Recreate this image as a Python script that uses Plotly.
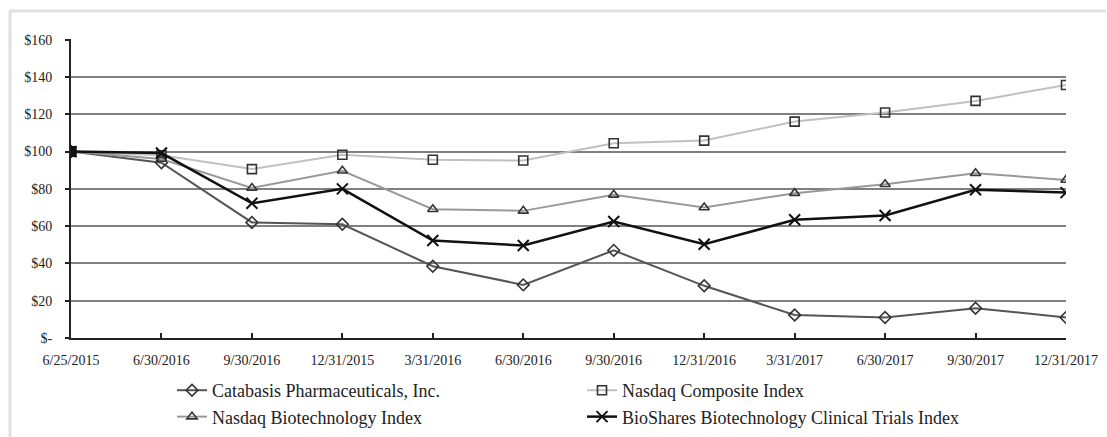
import plotly.graph_objects as go

dates = ["6/25/2015", "6/30/2016", "9/30/2016", "12/31/2015", "3/31/2016", "6/30/2016",
         "9/30/2016", "12/31/2016", "3/31/2017", "6/30/2017", "9/30/2017", "12/31/2017"]
catabasis = [100, 94, 62, 61, 38.5, 28.5, 47, 28, 12.3, 11, 16, 11]
nasdaq_composite = [100, 98, 90.6, 98.3, 95.6, 95.2, 104.5, 105.9, 116.1, 121, 127.2, 135.7]
nasdaq_biotech = [100, 96, 80.5, 89.7, 69.1, 68.2, 76.8, 70, 77.7, 82.5, 88.4, 84.8]
bioshares = [100, 99.2, 72.3, 80, 52.3, 49.6, 62.5, 50.3, 63.4, 65.7, 79.5, 78]
y_ticks = [0, 20, 40, 60, 80, 100, 120, 140, 160]
y_labels = ["$-", "$20", "$40", "$60", "$80", "$100", "$120", "$140", "$160"]

idx = list(range(len(dates)))
n = len(dates)

fig = go.Figure()
fig.add_trace(go.Scatter(
    x=idx, y=catabasis, name="Catabasis Pharmaceuticals, Inc.", mode="lines+markers",
    line=dict(color="#555555", width=2),
    marker=dict(symbol="diamond-open", size=9, color="#333333", line=dict(width=1.6, color="#333333"))))
fig.add_trace(go.Scatter(
    x=idx, y=nasdaq_composite, name="Nasdaq Composite Index", mode="lines+markers",
    line=dict(color="#c0c0c0", width=2),
    marker=dict(symbol="square-open", size=9, color="#333333", line=dict(width=1.6, color="#333333"))))
fig.add_trace(go.Scatter(
    x=idx, y=nasdaq_biotech, name="Nasdaq Biotechnology Index", mode="lines+markers",
    line=dict(color="#999999", width=2),
    marker=dict(symbol="triangle-up-open", size=9, color="#333333", line=dict(width=1.6, color="#333333"))))
fig.add_trace(go.Scatter(
    x=idx, y=bioshares, name="BioShares Biotechnology Clinical Trials Index", mode="lines+markers",
    line=dict(color="#111111", width=2.5),
    marker=dict(symbol="x-thin-open", size=11, color="#111111", line=dict(width=2, color="#111111"))))
# filled start marker where all series overlap
fig.add_trace(go.Scatter(
    x=[idx[0]], y=[nasdaq_composite[0]], mode="markers", showlegend=False, hoverinfo="skip",
    marker=dict(symbol="square", size=11, color="#111111")))

fig.update_layout(
    width=1107, height=437,
    margin=dict(l=71, r=41, t=39, b=99, autoexpand=False),
    paper_bgcolor="white", plot_bgcolor="white",
    font=dict(family="Liberation Serif", size=14, color="#222222"),
    showlegend=True,
    legend=dict(orientation="h", x=0.1015, xanchor="left", xref="paper",
                y=0.1487, yanchor="top", yref="container",
                entrywidth=365, font=dict(family="Liberation Serif", size=18, color="#222222"),
                tracegroupgap=0, itemwidth=30, bgcolor="rgba(0,0,0,0)"),
    shapes=[
        dict(type="line", xref="paper", yref="paper", x0=-0.0613, x1=1.04, y0=1.094, y1=1.094,
             line=dict(color="#e0e0e0", width=3)),
        dict(type="line", xref="paper", yref="paper", x0=-0.0613, x1=-0.0613, y0=1.094, y1=-0.33,
             line=dict(color="#e0e0e0", width=3)),
    ],
)
fig.update_xaxes(
    range=[0, n - 1], tickmode="array", tickvals=idx, ticktext=dates, automargin=False,
    showgrid=False, zeroline=False, showline=True, linecolor="#222222", linewidth=2,
    ticks="inside", ticklen=5, tickcolor="#222222", tickwidth=2, ticklabelstandoff=8,
    tickfont=dict(family="Liberation Serif", size=14, color="#222222"))
fig.update_yaxes(
    range=[0, 160.4], tickmode="array", tickvals=y_ticks, ticktext=y_labels, automargin=False,
    showgrid=True, gridcolor="#808080", gridwidth=1.5, zeroline=False,
    showline=True, linecolor="#222222", linewidth=2,
    ticks="outside", ticklen=4, tickcolor="#222222", tickwidth=2, ticklabelstandoff=10,
    tickfont=dict(family="Liberation Serif", size=14, color="#222222"))

fig.write_html("out.html")
